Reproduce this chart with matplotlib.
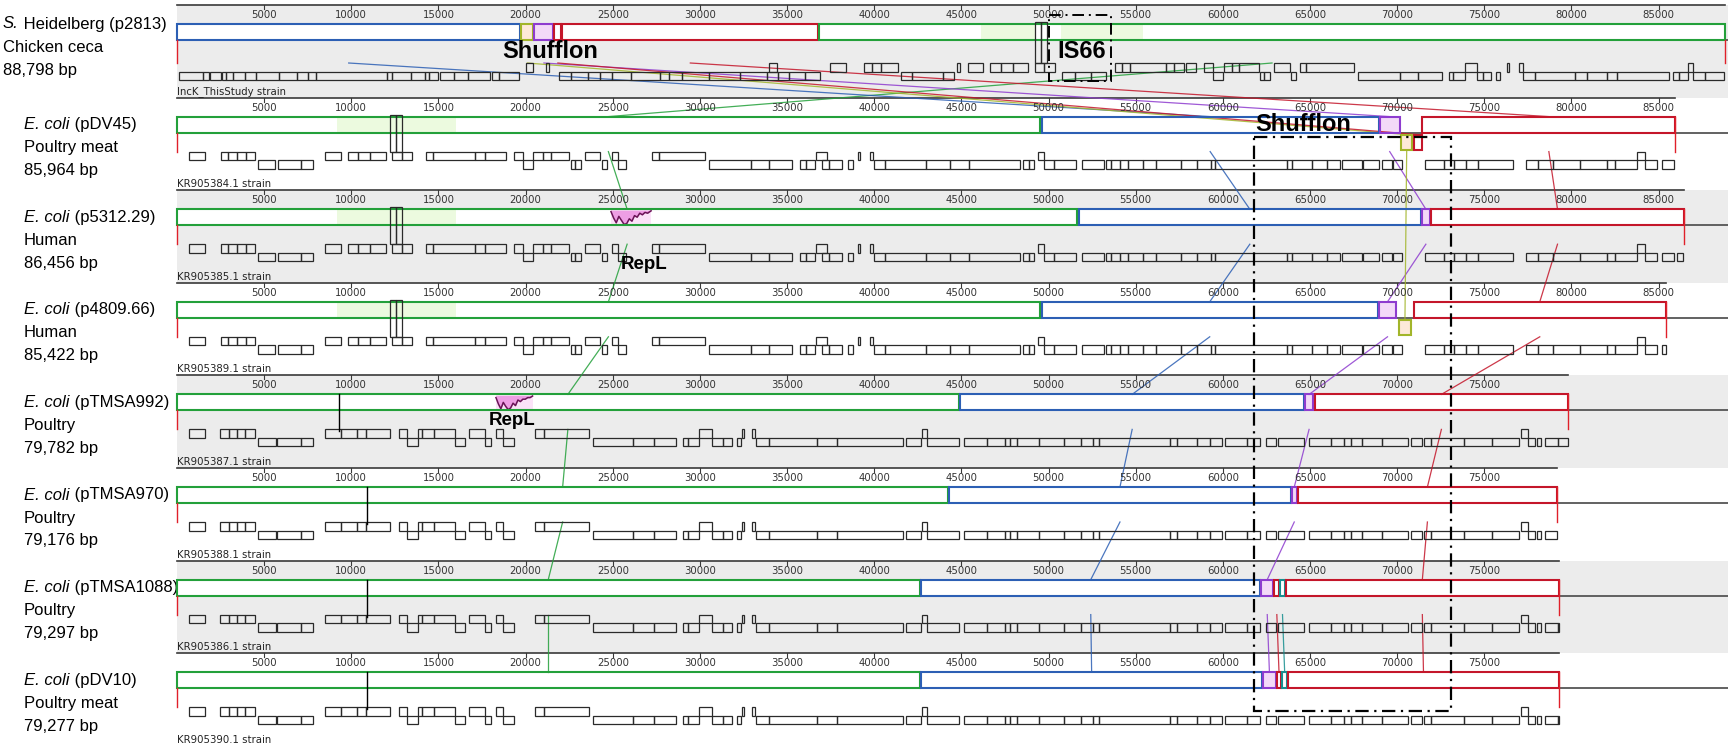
import matplotlib.pyplot as plt
from matplotlib.patches import Rectangle
from matplotlib.transforms import blended_transform_factory

plt.rcParams['font.family'] = ['Liberation Sans', 'DejaVu Sans']

# plasmids, top to bottom
species = ['S.', 'E. coli', 'E. coli', 'E. coli', 'E. coli', 'E. coli', 'E. coli', 'E. coli']
plasmids = ['Heidelberg (p2813)', '(pDV45)', '(p5312.29)', '(p4809.66)',
            '(pTMSA992)', '(pTMSA970)', '(pTMSA1088)', '(pDV10)']
sources = ['Chicken ceca', 'Poultry meat', 'Human', 'Human',
           'Poultry', 'Poultry', 'Poultry', 'Poultry meat']
sizes_bp = [88798, 85964, 86456, 85422, 79782, 79176, 79297, 79277]
strain_ids = ['IncK_ThisStudy strain', 'KR905384.1 strain', 'KR905385.1 strain',
              'KR905389.1 strain', 'KR905387.1 strain', 'KR905388.1 strain',
              'KR905386.1 strain', 'KR905390.1 strain']

# locally collinear blocks: (block id, start, end, inverted)
lcbs = [
    [('B', 0, 19700, 0), ('Y', 19750, 20450, 0), ('P', 20500, 21600, 0),
     ('r', 21650, 22050, 0), ('R', 22100, 36800, 0), ('G', 36850, 88798, 0)],
    [('G', 0, 49500, 0), ('B', 49600, 68950, 0), ('P', 69000, 70150, 0),
     ('Y', 70250, 70850, 1), ('r', 70950, 71400, 1), ('R', 71450, 85964, 0)],
    [('G', 0, 51650, 0), ('B', 51750, 71350, 0), ('P', 71400, 71900, 0),
     ('R', 71950, 86456, 0)],
    [('G', 0, 49500, 0), ('B', 49600, 68900, 0), ('P', 68950, 69950, 0),
     ('Y', 70100, 70800, 1), ('R', 70950, 85422, 0)],
    [('G', 0, 44850, 0), ('B', 44950, 64650, 0), ('P', 64700, 65200, 0),
     ('R', 65300, 79782, 0)],
    [('G', 0, 44250, 0), ('B', 44300, 63900, 0), ('P', 63950, 64250, 0),
     ('R', 64300, 79176, 0)],
    [('G', 0, 42600, 0), ('B', 42700, 62150, 0), ('P', 62200, 62900, 0),
     ('s', 62950, 63250, 0), ('T', 63300, 63550, 0), ('R', 63600, 79297, 0)],
    [('G', 0, 42600, 0), ('B', 42700, 62250, 0), ('P', 62300, 63050, 0),
     ('s', 63100, 63350, 0), ('T', 63400, 63700, 0), ('R', 63750, 79277, 0)],
]

# conserved stretches shaded inside the green block
light_regions = [[(46100, 49200), (50700, 55400)], [(9200, 16000)], [(9200, 16000)],
                 [(9200, 16000)], [], [], [], []]

# selected feature (double box) and cursor position
feature_boxes = [(49200, 49900), (12200, 12900), (12200, 12900), (12200, 12900),
                 None, None, None, None]
cursor_bp = [None, None, None, None, 9300, 10900, 10900, 10900]

# similarity drop around repL
repl_panels = [2, 4]
repl_x = [[24900, 25050, 25200, 25350, 25500, 25650, 25800, 25950, 26100, 26250,
           26400, 26550, 26700, 26850, 27000, 27200],
          [18300, 18440, 18580, 18720, 18860, 19000, 19140, 19280, 19420, 19560,
           19700, 19840, 19980, 20120, 20260, 20400]]
repl_depth = [[0.15, 0.55, 0.85, 0.45, 0.7, 0.95, 0.9, 0.6, 0.75, 0.4, 0.5, 0.25,
               0.35, 0.2, 0.25, 0.1],
              [0.2, 0.6, 0.9, 0.5, 0.75, 0.95, 0.85, 0.55, 0.7, 0.35, 0.45, 0.3,
               0.3, 0.2, 0.2, 0.1]]

# annotated genes, forward and reverse strand
genes_p2813_fwd = [(20050, 20400), (21170, 21350), (33970, 34410), (37480, 38380),
                   (39430, 39870), (39870, 40380), (40380, 41350), (44770, 44900),
                   (45370, 46270), (46650, 47290), (47290, 47980), (47980, 48830),
                   (49210, 49730), (49730, 50370), (53820, 54220), (54220, 54680),
                   (54680, 56750), (56750, 57210), (57210, 57780), (57900, 58470),
                   (58930, 59460), (60080, 60540), (60540, 60950), (60950, 62100),
                   (62950, 63870), (64450, 64790), (64790, 67550), (73870, 74560),
                   (76280, 76440), (76970, 77200), (86690, 86970)]
genes_p2813_rev = [(122, 1485), (1485, 1813), (1880, 2540), (2580, 2800), (2800, 3240),
                   (3240, 3900), (3900, 4560), (4560, 5875), (5875, 6865), (6865, 7520),
                   (7520, 7960), (7960, 12020), (12020, 12350), (12350, 13450),
                   (13450, 14220), (14220, 14440), (14440, 14990), (15100, 15870),
                   (15870, 16690), (16690, 17970), (18100, 18480), (18480, 19630),
                   (21940, 22580), (22580, 23600), (23600, 24240), (24240, 24930),
                   (24930, 26030), (26030, 27700), (27700, 28210), (28210, 28980),
                   (28980, 30520), (30520, 32310), (32310, 33850), (33850, 34490),
                   (34490, 35130), (35130, 36020), (36020, 36870), (41530, 42170),
                   (42170, 43960), (43960, 44550), (50750, 51520), (51520, 52420),
                   (52420, 53310), (59460, 60030), (62150, 62380), (62380, 62720),
                   (63940, 64220), (67780, 70140), (70140, 71180), (71180, 72600),
                   (72990, 73180), (73180, 73870), (74560, 74900), (74900, 75360),
                   (75660, 75890), (77200, 77890), (77890, 80190), (80190, 80880),
                   (80880, 82030), (82030, 82600), (82600, 85590), (85820, 86160),
                   (86160, 86690), (86970, 87650), (87650, 88760)]

genes_kr1_fwd = [(700, 1600), (2500, 2950), (2950, 3450), (3450, 3950), (3950, 4450),
                 (8500, 9420), (9800, 10380), (10380, 11100), (11100, 12000),
                 (12340, 12890), (12890, 13470), (14300, 14700), (14700, 17100),
                 (17100, 17650), (17650, 18850), (19340, 19830), (20400, 20980),
                 (20980, 21470), (21470, 22500), (23380, 24250), (24940, 25320),
                 (27280, 27630), (27630, 30320), (36680, 37310), (39050, 39190),
                 (39770, 39920), (49420, 49760), (83780, 84210)]
genes_kr1_rev = [(4650, 5650), (5800, 7100), (7100, 7800), (19830, 20400),
                 (22580, 22860), (22860, 23150), (24360, 24650), (25320, 25750),
                 (30520, 32920), (32920, 33990), (33990, 35290), (35720, 36070),
                 (36070, 36590), (37000, 37400), (37400, 38180), (38470, 38760),
                 (40000, 40640), (40640, 42950), (42950, 44350), (44350, 45430),
                 (45430, 48340), (48560, 48900), (48900, 49190), (49760, 50330),
                 (50330, 51550), (51900, 53180), (53320, 53600), (53600, 54090),
                 (54090, 54540), (54540, 55450), (55450, 56160), (56160, 57590),
                 (57590, 58530), (58530, 59300), (59300, 59580), (59580, 63710),
                 (63710, 63990), (63990, 65130), (65130, 65990), (65990, 66700),
                 (66840, 67980), (68040, 68980), (69120, 69690), (69750, 70260),
                 (71620, 72680), (72680, 73250), (73250, 73960), (73960, 74670),
                 (74670, 76660), (77380, 78090), (78090, 78940), (78940, 80510),
                 (80510, 82070), (82070, 82500), (82500, 83780), (84210, 84920),
                 (85210, 85860), (86060, 86430)]

genes_kr2_fwd = [(700, 1620), (2490, 3010), (3010, 3440), (3440, 3930), (3930, 4450),
                 (8500, 9420), (9420, 10350), (10350, 10870), (10870, 12200),
                 (12750, 13180), (13820, 14050), (14050, 14770), (14770, 15930),
                 (16740, 17660), (18330, 18730), (20550, 21070), (21070, 23640),
                 (29940, 30720), (32400, 32550), (32980, 33180), (42750, 43040),
                 (77090, 77520)]
genes_kr2_rev = [(4650, 5670), (5750, 7110), (7110, 7780), (13180, 13820),
                 (15930, 16500), (17660, 18000), (18680, 19310), (23880, 26190),
                 (26190, 27340), (27340, 28640), (29020, 29310), (29310, 29940),
                 (30720, 31330), (31330, 31820), (32110, 32340), (33210, 33990),
                 (33990, 36740), (36740, 37890), (37890, 41650), (41850, 42660),
                 (43040, 44860), (45150, 46490), (46490, 47480), (47480, 47770),
                 (47770, 48190), (48190, 49470), (49470, 50900), (50900, 51840),
                 (51840, 52550), (52550, 52890), (52890, 56960), (56960, 57390),
                 (57390, 58500), (58500, 59240), (59240, 59950), (60150, 61380),
                 (61380, 62140), (62490, 63050), (63140, 64650), (64930, 66210),
                 (66210, 66930), (66930, 67350), (67350, 67980), (67980, 69120),
                 (69120, 70630), (70770, 71400), (71540, 71970), (71970, 73820),
                 (73820, 75470), (75470, 77000), (77520, 77940), (78000, 78230),
                 (78510, 79230), (79230, 79940)]

gene_sets = [(genes_p2813_fwd, genes_p2813_rev)] + \
            [(genes_kr1_fwd, genes_kr1_rev)] * 3 + \
            [(genes_kr2_fwd, genes_kr2_rev)] * 4

# callouts: text, plasmid row, position, size
callouts = [('Shufflon', 0, 21400, 17), ('IS66', 0, 51900, 17), ('Shufflon', 1, 64600, 17),
            ('RepL', 2, 26800, 13.5), ('RepL', 4, 19200, 13.5)]
is66_span = (50000, 53600)
shufflon_span = (61800, 73100)

lcb_colors = {'G': '#23a03a', 'B': '#2c5fb4', 'P': '#8e3ccf', 'Y': '#a2b52a',
              'r': '#c4162a', 'R': '#c4162a', 's': '#c4162a', 'T': '#178f8f'}
lcb_fills = {'P': '#f3d9f8', 'Y': '#fde9d9'}

W, H = 1728, 752
fig = plt.figure(figsize=(W / 100, H / 100), dpi=100)
ax = fig.add_axes([0, 0, 1, 1])
seq_left_px = 177.0
px_per_bp = 0.01743
x_min = -seq_left_px / px_per_bp
x_max = (W - seq_left_px) / px_per_bp
ax.set_xlim(x_min, x_max)
ax.set_ylim(H, 0)
ax.axis('off')

track_h = 92.6
gene_h = 8.5


def top(i):
    return 5 + track_h * i


def gene_top(i):
    return top(i) + (58 if i == 0 else 54)


callout_dy = {0: 47, 1: 27, 2: 74, 4: 45}

left_tf = blended_transform_factory(fig.transFigure, ax.transData)

for i, size in enumerate(sizes_bp):
    y0 = top(i)
    if i % 2 == 0:
        ax.add_patch(Rectangle((0, y0), x_max, track_h, facecolor='#ececec',
                               edgecolor='none', zorder=0))
    # ruler
    ax.plot([0, size], [y0, y0], color='#3a3a3a', lw=1.2, zorder=4)
    for t in range(5000, size, 5000):
        ax.plot([t, t], [y0, y0 + 4], color='#3a3a3a', lw=0.8, zorder=4)
        ax.text(t, y0 + 10, str(t), fontsize=7.3, family='DejaVu Sans', color='#333333',
                ha='center', va='center', zorder=9)
    ax.plot([0, x_max], [y0 + 35, y0 + 35], color='#555555', lw=1.3, zorder=4)

    # blocks
    for bid, s, e, inv in lcbs[i]:
        by = y0 + 37 if inv else y0 + 19
        bh = 15 if inv else 16
        ax.add_patch(Rectangle((s, by), e - s, bh,
                               facecolor=lcb_fills.get(bid, 'white'), edgecolor='none',
                               zorder=2))
        ax.add_patch(Rectangle((s, by), e - s, bh, facecolor='none',
                               edgecolor=lcb_colors[bid], lw=1.5, zorder=6))
    for s, e in light_regions[i]:
        ax.add_patch(Rectangle((s, y0 + 20), e - s, 14, facecolor='#ecfadf',
                               edgecolor='none', zorder=3))

    # genes
    fwd, rev = gene_sets[i]
    for row, glist in ((gene_top(i), fwd), (gene_top(i) + gene_h, rev)):
        for s, e in glist:
            if s >= size:
                continue
            ax.add_patch(Rectangle((s, row), min(e, size) - s, gene_h, facecolor='none',
                                   edgecolor='#2a2a2a', lw=0.9, zorder=7))

    if feature_boxes[i] is not None:
        fs, fe = feature_boxes[i]
        mid = (fs + fe) / 2
        for a, b in ((fs, mid), (mid, fe)):
            ax.add_patch(Rectangle((a, y0 + 17), b - a, gene_top(i) - y0 - 17,
                                   facecolor='none', edgecolor='#2a2a2a', lw=0.9,
                                   zorder=7))
    if cursor_bp[i] is not None:
        ax.plot([cursor_bp[i]] * 2, [y0 + 19, gene_top(i) + 2], color='black', lw=1.0,
                zorder=7)

    # sequence ends
    ax.plot([0, 0], [y0 + 35, gene_top(i)], color='#e0202a', lw=1.0, zorder=8)
    ax.plot([size, size], [y0 + 19 if i else y0 + 35, gene_top(i)], color='#e0202a',
            lw=1.0, zorder=8)

    # labels
    lx = 3 / W if i == 0 else 24 / W
    dy = (19, 42, 65) if i == 0 else (27, 50, 73)
    sp = ax.text(lx, y0 + dy[0], species[i], style='italic', fontsize=12, va='center',
                 transform=left_tf, color='black')
    ax.annotate(' ' + plasmids[i], xy=(1, 0.5), xycoords=sp, va='center', fontsize=12,
                color='black')
    ax.text(lx, y0 + dy[1], sources[i], fontsize=12, va='center', transform=left_tf)
    ax.text(lx, y0 + dy[2], f'{size:,} bp', fontsize=12, va='center', transform=left_tf)
    ax.text(0, y0 + track_h - 1, strain_ids[i], fontsize=7.3, family='DejaVu Sans',
            color='#222222', ha='left', va='bottom', zorder=9)

# similarity profile
for p, xs, depth in zip(repl_panels, repl_x, repl_depth):
    by = top(p) + 19
    ys = [by + d * 16 for d in depth]
    ax.add_patch(Rectangle((xs[0], by + 1), xs[-1] - xs[0], 14, facecolor='#fbe2f8',
                           edgecolor='none', zorder=3))
    ax.fill_between(xs, by + 1, ys, color='#ee9ee4', lw=0, zorder=3)
    ax.plot(xs, ys, color='#6a1456', lw=1.1, zorder=3)

# lines joining the same block in neighbouring plasmids
for bid in lcb_colors:
    hits = []
    for i, blocks in enumerate(lcbs):
        for b, s, e, inv in blocks:
            if b == bid:
                hits.append((i, (s + e) / 2, inv))
    for (i, xa, _), (j, xb, inv_b) in zip(hits[:-1], hits[1:]):
        yb = top(j) + (37 if inv_b else 19)
        ax.plot([xa, xb], [gene_top(i), yb], color=lcb_colors[bid], lw=0.9, alpha=0.85,
                zorder=5)

for word, p, xc, fsz in callouts:
    ax.text(xc, top(p) + callout_dy[p], word, fontsize=fsz, fontweight='bold',
            ha='center', va='center', zorder=10)

dash = (0, (6, 2.5, 1, 2.5))
s, e = is66_span
ax.add_patch(Rectangle((s, top(0) + 10), e - s, 66, facecolor='none', edgecolor='black',
                       lw=1.4, linestyle=dash, zorder=10))
s, e = shufflon_span
ax.add_patch(Rectangle((s, top(1) + 39), e - s, top(7) + 58 - top(1) - 39,
                       facecolor='none', edgecolor='black', lw=1.6, linestyle=dash,
                       zorder=10))

fig.savefig('out.png', dpi=100)
